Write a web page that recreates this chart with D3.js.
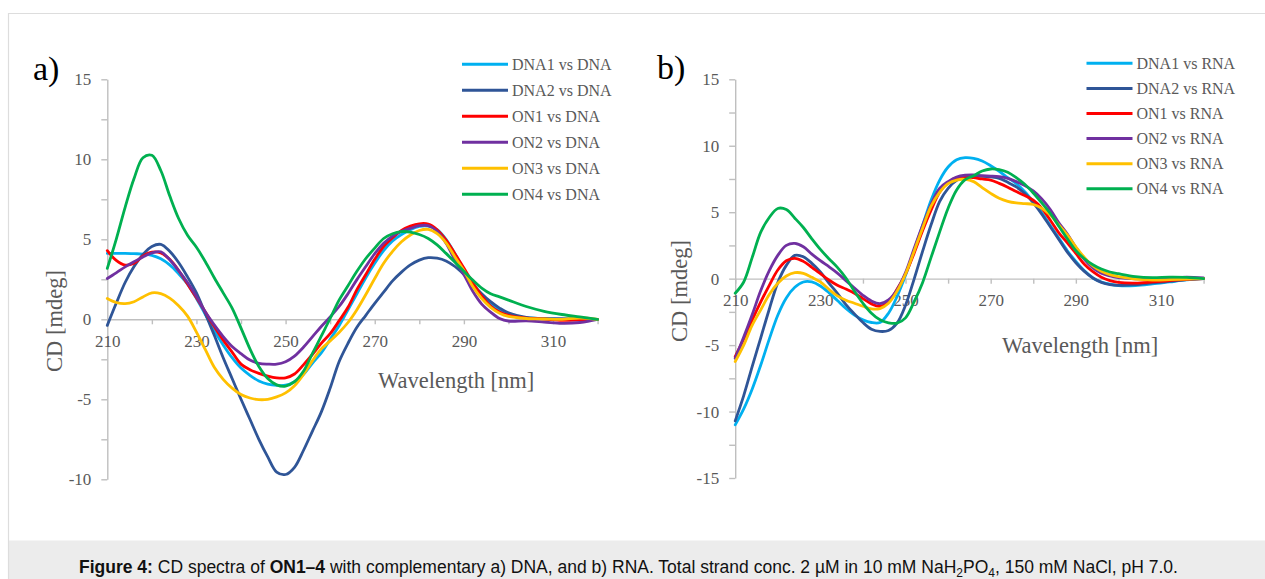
<!DOCTYPE html>
<html><head><meta charset="utf-8">
<script src="https://cdn.jsdelivr.net/npm/d3@7"></script>
<style>body{margin:0;background:#fff;} svg{display:block;}</style>
</head><body><svg id="chart" width="1265" height="579"></svg>
<script>
// ---------- DATA ----------
const wavelengths = [210,212,214,216,218,220,222,224,226,228,230,232,234,236,238,240,242,244,246,248,
  250,252,254,256,258,260,262,264,266,268,270,272,274,276,278,280,282,284,286,288,
  290,292,294,296,298,300,304,308,312,316,320];

const xTickValues = [210,220,230,240,250,260,270,280,290,300,310,320];
const xTickLabels = ["210","","230","","250","","270","","290","","310",""];
const yTicksA = [-10,-7.5,-5,-2.5,0,2.5,5,7.5,10,12.5,15];
const yTicksB = [-15,-12.5,-10,-7.5,-5,-2.5,0,2.5,5,7.5,10,12.5,15];

const namesDNA = ["DNA1 vs DNA","DNA2 vs DNA","ON1 vs DNA","ON2 vs DNA","ON3 vs DNA","ON4 vs DNA"];
const namesRNA = ["DNA1 vs RNA","DNA2 vs RNA","ON1 vs RNA","ON2 vs RNA","ON3 vs RNA","ON4 vs RNA"];
const colors = ["#00B0F0","#2F5597","#FF0000","#7030A0","#FFC000","#00B050"];

// panel a) vs DNA
const dna1_dna = [4.12,4.12,4.12,4.10,4.08,4.00,3.78,3.40,2.85,2.20, 1.30,0.30,-0.70,-1.60,-2.40,-3.05,-3.50,-3.85,-4.05,-4.13,
  -4.12,-3.90,-3.45,-2.75,-2.10,-1.25,-0.40,0.60,1.60,2.60, 3.50,4.30,4.90,5.30,5.60,5.80,5.82,5.60,5.00,4.10,
  3.10,2.20,1.50,0.95,0.55,0.30, 0.10,0.05,0.00,0.00,0.00];
const dna2_dna = [-0.38,1.00,2.30,3.30,4.05,4.55,4.68,4.25,3.55,2.65, 1.65,0.35,-1.00,-2.40,-3.70,-5.00,-6.25,-7.50,-8.60,-9.55,
  -9.70,-9.25,-8.20,-7.00,-5.80,-4.30,-2.65,-1.50,-0.50,0.25, 1.00,1.70,2.40,2.95,3.40,3.70,3.85,3.82,3.65,3.30,
  2.80,2.20,1.60,1.10,0.70,0.40, 0.12,0.04,0.04,0.02,0.00];
const on1_dna = [4.29,3.68,3.39,3.50,3.95,4.20,4.15,3.75,3.05,2.20, 1.35,0.45,-0.45,-1.30,-2.05,-2.80,-3.15,-3.38,-3.55,-3.66,
  -3.66,-3.42,-2.85,-2.20,-1.50,-0.90,-0.10,0.75,1.85,2.80, 3.75,4.55,5.10,5.55,5.82,5.97,5.95,5.60,4.95,4.10,
  3.20,2.30,1.45,0.83,0.45,0.25, 0.08,0.02,-0.06,-0.04,0.00];
const on2_dna = [2.55,2.90,3.28,3.60,3.90,4.15,4.22,3.72,3.05,2.30, 1.42,0.45,-0.35,-1.08,-1.70,-2.15,-2.55,-2.75,-2.80,-2.80,
  -2.65,-2.30,-1.75,-1.10,-0.45,0.15,0.80,1.60,2.48,3.30, 4.10,4.75,5.20,5.50,5.68,5.85,5.85,5.50,4.75,3.70,
  2.80,1.75,0.95,0.45,0.05,-0.12, -0.10,-0.17,-0.25,-0.20,0.00];
const on3_dna = [1.30,1.05,0.98,1.10,1.40,1.65,1.60,1.32,0.85,0.20, -0.80,-1.90,-3.00,-3.75,-4.30,-4.70,-4.92,-5.02,-5.00,-4.85,
  -4.60,-4.15,-3.45,-2.60,-1.85,-1.35,-0.82,-0.20,0.60,1.55, 2.55,3.50,4.25,4.85,5.27,5.55,5.62,5.35,4.78,3.90,
  3.05,2.05,1.30,0.75,0.38,0.18, 0.05,0.02,0.00,0.08,0.00];
const on4_dna = [3.18,5.00,7.00,8.80,10.10,10.25,9.30,7.72,6.30,5.25, 4.50,3.60,2.60,1.65,0.70,-0.55,-1.85,-2.95,-3.70,-4.10,
  -4.18,-3.90,-3.25,-2.15,-1.05,0.05,1.20,2.10,3.00,3.80, 4.45,5.05,5.35,5.48,5.45,5.30,5.05,4.65,4.12,3.57,
  3.00,2.45,1.95,1.60,1.40,1.20, 0.80,0.50,0.30,0.15,0.00];

// panel b) vs RNA
const dna1_rna = [-11.00,-9.80,-8.30,-6.50,-4.55,-2.75,-1.45,-0.65,-0.25,-0.25, -0.55,-1.05,-1.65,-2.25,-2.75,-3.10,-3.30,-3.30,-2.60,-1.35,
  0.25,2.10,4.00,5.90,7.40,8.40,8.95,9.10,9.05,8.85, 8.50,8.08,7.60,7.15,6.55,5.80,4.98,4.00,3.05,2.10,
  1.30,0.60,0.05,-0.25,-0.42,-0.52, -0.52,-0.40,-0.25,-0.10,0.00];
const dna2_rna = [-10.70,-8.80,-6.60,-4.45,-2.30,-0.30,1.00,1.75,1.65,1.15, 0.50,-0.33,-1.10,-1.95,-2.65,-3.30,-3.80,-3.97,-3.90,-3.35,
  -2.00,-0.05,2.05,4.05,5.80,6.80,7.40,7.65,7.72,7.70, 7.65,7.55,7.25,6.90,6.40,5.70,4.85,3.90,2.95,2.00,
  1.20,0.55,0.05,-0.28,-0.45,-0.50, -0.45,-0.32,-0.20,-0.07,0.00];
const on1_rna = [-5.86,-4.55,-3.10,-1.75,-0.50,0.65,1.35,1.53,1.30,0.85, 0.38,-0.10,-0.50,-0.78,-1.10,-1.50,-1.90,-2.08,-1.75,-0.80,
  0.35,1.90,3.60,5.15,6.50,7.25,7.60,7.68,7.60,7.50, 7.42,7.17,6.88,6.55,6.25,5.90,5.30,4.40,3.45,2.70,
  1.90,1.08,0.52,0.10,-0.15,-0.28, -0.33,-0.25,-0.15,-0.05,0.00];
const on2_rna = [-6.00,-4.40,-2.70,-0.90,0.60,1.75,2.50,2.65,2.40,1.85, 1.35,0.90,0.42,-0.15,-0.70,-1.25,-1.68,-1.88,-1.60,-0.85,
  0.45,2.25,4.00,5.60,6.80,7.30,7.65,7.78,7.80,7.75, 7.72,7.67,7.55,7.30,7.00,6.60,6.00,5.20,4.20,3.35,
  2.35,1.45,0.80,0.40,0.20,0.08, -0.02,0.00,0.05,0.12,0.05];
const on3_rna = [-6.24,-5.00,-3.50,-2.35,-1.20,-0.35,0.20,0.45,0.40,0.10, -0.25,-0.80,-1.30,-1.62,-1.85,-2.08,-2.28,-2.25,-1.85,-0.95,
  0.35,2.05,3.80,5.45,6.50,7.15,7.42,7.47,7.30,6.85, 6.42,6.05,5.82,5.70,5.65,5.58,5.30,4.79,4.05,3.30,
  2.40,1.60,0.95,0.55,0.30,0.15, -0.03,-0.10,-0.08,-0.04,0.00];
const on4_rna = [-1.10,-0.25,1.60,3.50,4.60,5.28,5.20,4.55,3.85,3.00, 2.20,1.50,0.85,0.05,-0.95,-1.85,-2.60,-3.10,-3.32,-3.35,
  -2.95,-1.75,-0.30,1.60,3.50,5.30,6.67,7.45,7.75,8.10, 8.25,8.20,8.00,7.60,7.10,6.45,5.70,4.91,3.95,3.00,
  2.10,1.50,1.05,0.72,0.50,0.37, 0.15,0.08,0.12,0.10,0.00];

const seriesDNA = [dna1_dna, dna2_dna, on1_dna, on2_dna, on3_dna, on4_dna];
const seriesRNA = [dna1_rna, dna2_rna, on1_rna, on2_rna, on3_rna, on4_rna];

// ---------- DRAW ----------
const svg = d3.select("#chart");
const serif = "'Liberation Serif','Times New Roman',serif";
const grey = "#595959";
const axisColor = "#bfbfbf";

svg.append("rect").attr("x",0).attr("y",0).attr("width",1265).attr("height",579).attr("fill","#fff");
// figure frame
svg.append("rect").attr("x",8).attr("y",540.5).attr("width",1257).attr("height",39).attr("fill","#ececec");
svg.append("line").attr("x1",8).attr("x2",1265).attr("y1",13.5).attr("y2",13.5).attr("stroke","#dddddd").attr("stroke-width",1.2);
svg.append("line").attr("x1",8.5).attr("x2",8.5).attr("y1",13).attr("y2",579).attr("stroke","#dddddd").attr("stroke-width",1.2);

const panels = [
  {label:"a)", labelX:33, labelY:80, xr:[107.3,597.6], yr:[479.3,79.3], yd:[-10,15], yTicks:yTicksA,
   legX:462, legY:64.3, legDy:26, xtX:378, xtY:388, ytX:54, ytY:321, names:namesDNA, data:seriesDNA},
  {label:"b)", labelX:657, labelY:79, xr:[735.2,1203.6], yr:[478,79.3], yd:[-15,15], yTicks:yTicksB,
   legX:1086.5, legY:63.3, legDy:25.1, xtX:1002, xtY:353, ytX:679, ytY:291, names:namesRNA, data:seriesRNA}
];

panels.forEach(p => {
  const x = d3.scaleLinear().domain([210,320]).range(p.xr);
  const y = d3.scaleLinear().domain(p.yd).range(p.yr);
  const g = svg.append("g");

  // y axis
  const yAxis = d3.axisLeft(y).tickValues(p.yTicks)
    .tickFormat(d => (d % 5 === 0) ? String(d) : "")
    .tickSizeInner(6).tickSizeOuter(0).tickPadding(10);
  const ya = g.append("g").attr("transform",`translate(${p.xr[0]},0)`).call(yAxis);
  // x axis at zero
  const xAxis = d3.axisBottom(x).tickValues(xTickValues)
    .tickFormat((d,i) => xTickLabels[i])
    .tickSizeInner(5).tickSizeOuter(0).tickPadding(10.5);
  const xa = g.append("g").attr("transform",`translate(0,${y(0)})`).call(xAxis);
  [ya, xa].forEach(a => {
    a.select(".domain").attr("stroke",axisColor).attr("stroke-width",1.4);
    a.selectAll(".tick line").attr("stroke",axisColor).attr("stroke-width",1.4);
    a.selectAll(".tick text").attr("fill",grey).style("font-family",serif).style("font-size","17px");
  });

  // titles
  g.append("text").attr("x",p.xtX).attr("y",p.xtY).attr("fill",grey)
    .style("font-family",serif).style("font-size","22.5px").text("Wavelength [nm]");
  g.append("text").attr("transform",`translate(${p.ytX},${p.ytY}) rotate(-90)`)
    .attr("text-anchor","middle").attr("dominant-baseline","central").attr("fill",grey)
    .style("font-family",serif).style("font-size","22.5px").text("CD [mdeg]");
  g.append("text").attr("x",p.labelX).attr("y",p.labelY).attr("fill","#000")
    .style("font-family",serif).style("font-size","34px").text(p.label);

  // series
  const line = d3.line().x((d,i) => x(wavelengths[i])).y(d => y(d)).curve(d3.curveCatmullRom.alpha(0.5));
  p.data.forEach((vals, k) => {
    g.append("path").datum(vals).attr("d", line).attr("fill","none")
      .attr("stroke", colors[k]).attr("stroke-width",2.8)
      .attr("stroke-linejoin","round").attr("stroke-linecap","round");
  });

  // legend
  p.names.forEach((n, k) => {
    const ly = p.legY + k * p.legDy;
    g.append("line").attr("x1",p.legX).attr("x2",p.legX+46).attr("y1",ly).attr("y2",ly)
      .attr("stroke",colors[k]).attr("stroke-width",3);
    g.append("text").attr("x",p.legX+50).attr("y",ly).attr("dominant-baseline","central")
      .attr("fill",grey).style("font-family",serif).style("font-size","16px").text(n);
  });
});

// caption
const cap = svg.append("text").attr("x",79).attr("y",573).attr("fill","#111")
  .style("font-family","'Liberation Sans',Arial,sans-serif").style("font-size","17.5px");
cap.append("tspan").attr("font-weight","bold").text("Figure 4:");
cap.append("tspan").text(" CD spectra of ");
cap.append("tspan").attr("font-weight","bold").text("ON1–4");
cap.append("tspan").text(" with complementary a) DNA, and b) RNA. Total strand conc. 2 µM in 10 mM NaH");
cap.append("tspan").attr("dy",4).style("font-size","12px").text("2");
cap.append("tspan").attr("dy",-4).text("PO");
cap.append("tspan").attr("dy",4).style("font-size","12px").text("4");
cap.append("tspan").attr("dy",-4).text(", 150 mM NaCl, pH 7.0.");
</script></body></html>
